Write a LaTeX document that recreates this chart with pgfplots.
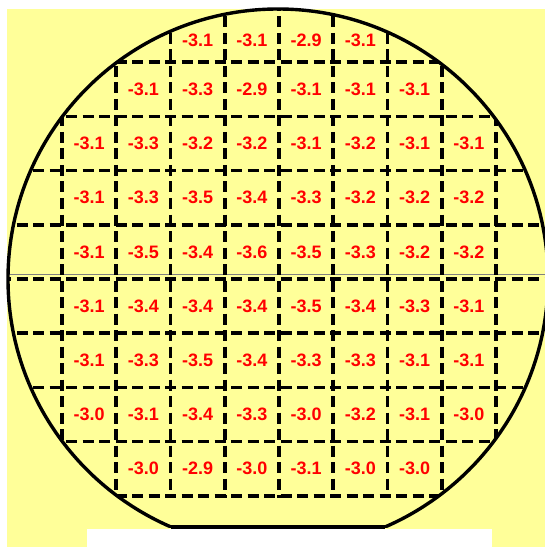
\documentclass[border=0pt]{standalone}
\usepackage{pgfplots}
\pgfplotsset{compat=1.18}
\usepackage{pgfplotstable}
\usepackage{fontspec}
\setmainfont{Liberation Sans}
\definecolor{waferbg}{HTML}{FFFF99}
\definecolor{valred}{HTML}{FF0000}

% die centres (pixel units, y down) and measured value
\pgfplotstableread{
x     y     v
197.6 40.0  -3.1
251.9 40.0  -3.1
306.1 40.0  -2.9
360.4 40.0  -3.1
143.4 89.3  -3.1
197.6 89.3  -3.3
251.9 89.3  -2.9
306.1 89.3  -3.1
360.4 89.3  -3.1
414.6 89.3  -3.1
89.1  143.5 -3.1
143.4 143.5 -3.3
197.6 143.5 -3.2
251.9 143.5 -3.2
306.1 143.5 -3.1
360.4 143.5 -3.2
414.6 143.5 -3.1
468.9 143.5 -3.1
89.1  197.7 -3.1
143.4 197.7 -3.3
197.6 197.7 -3.5
251.9 197.7 -3.4
306.1 197.7 -3.3
360.4 197.7 -3.2
414.6 197.7 -3.2
468.9 197.7 -3.2
89.1  251.9 -3.1
143.4 251.9 -3.5
197.6 251.9 -3.4
251.9 251.9 -3.6
306.1 251.9 -3.5
360.4 251.9 -3.3
414.6 251.9 -3.2
468.9 251.9 -3.2
89.1  306.1 -3.1
143.4 306.1 -3.4
197.6 306.1 -3.4
251.9 306.1 -3.4
306.1 306.1 -3.5
360.4 306.1 -3.4
414.6 306.1 -3.3
468.9 306.1 -3.1
89.1  360.3 -3.1
143.4 360.3 -3.3
197.6 360.3 -3.5
251.9 360.3 -3.4
306.1 360.3 -3.3
360.4 360.3 -3.3
414.6 360.3 -3.1
468.9 360.3 -3.1
89.1  414.5 -3.0
143.4 414.5 -3.1
197.6 414.5 -3.4
251.9 414.5 -3.3
306.1 414.5 -3.0
360.4 414.5 -3.2
414.6 414.5 -3.1
468.9 414.5 -3.0
143.4 468.7 -3.0
197.6 468.7 -2.9
251.9 468.7 -3.0
306.1 468.7 -3.1
360.4 468.7 -3.0
414.6 468.7 -3.0
}\wafermap

\begin{document}
\begin{tikzpicture}
\begin{axis}[
    width=545bp, height=547bp, scale only axis,
    xmin=0, xmax=545, ymin=0, ymax=547,
    y dir=reverse,
    hide axis,
]
% background
\fill[white] (axis cs:0,0) rectangle (axis cs:545,547);
\fill[waferbg] (axis cs:7,9) rectangle (axis cs:545,547);
\fill[white] (axis cs:87,529) rectangle (axis cs:492,547);
\draw[gray, line width=0.9bp] (axis cs:7,274) -- (axis cs:545,274);

% die grid, clipped to the wafer (nothing below the last row of dies)
\begin{scope}
  \clip (axis cs:0,0) rectangle (axis cs:545,497.6);
  \clip (axis cs:278,279) circle[radius=270bp];
  \begin{scope}[line width=3.6bp, dash pattern=on 11bp off 5.5bp]
    \draw (axis cs:62,0) -- (axis cs:62,547);
    \draw (axis cs:116.25,0) -- (axis cs:116.25,547);
    \draw (axis cs:170.5,0) -- (axis cs:170.5,547);
    \draw (axis cs:224.75,0) -- (axis cs:224.75,547);
    \draw (axis cs:279,0) -- (axis cs:279,547);
    \draw (axis cs:333.25,0) -- (axis cs:333.25,547);
    \draw (axis cs:387.5,0) -- (axis cs:387.5,547);
    \draw (axis cs:441.75,0) -- (axis cs:441.75,547);
    \draw (axis cs:496,0) -- (axis cs:496,547);
    \draw (axis cs:0,62.2) -- (axis cs:545,62.2);
    \draw (axis cs:0,116.4) -- (axis cs:545,116.4);
    \draw (axis cs:0,170.6) -- (axis cs:545,170.6);
    \draw (axis cs:0,224.8) -- (axis cs:545,224.8);
    \draw (axis cs:0,279) -- (axis cs:545,279);
    \draw (axis cs:0,333.2) -- (axis cs:545,333.2);
    \draw (axis cs:0,387.4) -- (axis cs:545,387.4);
    \draw (axis cs:0,441.6) -- (axis cs:545,441.6);
    \draw (axis cs:0,495.8) -- (axis cs:545,495.8);
  \end{scope}
\end{scope}

% wafer outline with flat
\begin{scope}
  \clip (axis cs:0,0) rectangle (axis cs:545,527);
  \draw[line width=3.4bp] (axis cs:278,279) circle[radius=270bp];
\end{scope}
\draw[line width=3.4bp] (axis cs:171.2,527) -- (axis cs:384.8,527);

\addplot[only marks, mark=none,
    point meta=explicit symbolic,
    nodes near coords,
    nodes near coords align={center},
    every node near coord/.append style={
        anchor=center, text=valred, font=\fontsize{18bp}{20bp}\selectfont\bfseries}
] table[x=x, y=y, meta=v] {\wafermap};
\end{axis}
\end{tikzpicture}
\end{document}
